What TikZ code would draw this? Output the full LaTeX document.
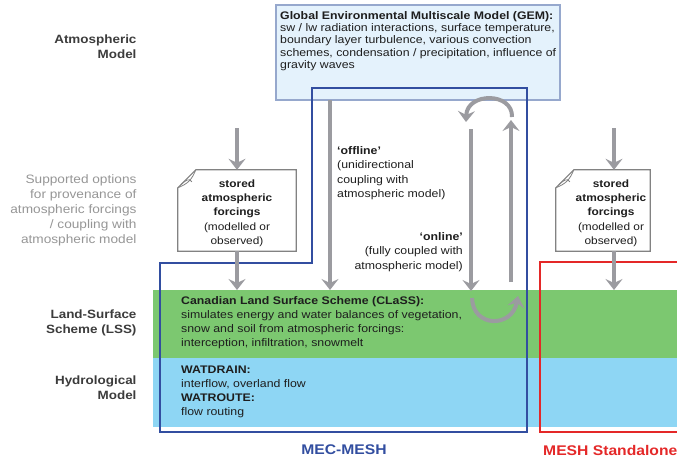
\documentclass[tikz,border=0pt]{standalone}
\usepackage{fontspec}
\setmainfont{Liberation Sans}[FakeStretch=1.12]
\usetikzlibrary{arrows.meta,positioning}
\definecolor{lssgreen}{RGB}{124,200,112}
\definecolor{hydblue}{RGB}{142,214,244}
\definecolor{gemfill}{RGB}{228,242,252}
\definecolor{gemborder}{RGB}{150,168,205}
\definecolor{mecblue}{RGB}{50,78,160}
\definecolor{stdred}{RGB}{228,40,40}
\definecolor{arrowgray}{RGB}{155,155,160}
\definecolor{boxgray}{RGB}{130,130,130}
\definecolor{labgray}{RGB}{60,60,60}
\definecolor{optgray}{RGB}{150,150,150}
\definecolor{txt}{RGB}{30,30,30}
\tikzset{
  band/.style={inner sep=0pt, outer sep=0pt, anchor=north west},
  flow/.style={draw=arrowgray, line width=4pt, -{Stealth[length=11pt,width=17pt,inset=4pt]}},
  leftlab/.style={anchor=north east, align=right, text=labgray, font=\fontsize{12}{15}\selectfont\bfseries},
  optlab/.style={anchor=north east, align=right, text=optgray, font=\fontsize{12.2}{15}\selectfont},
  bandtxt/.style={anchor=north west, align=left, text=txt, inner sep=0pt, font=\fontsize{11}{14}\selectfont},
  storedtxt/.style={minimum height=81pt, inner sep=0pt, align=center, text=txt, font=\fontsize{10.6}{14.3}\selectfont},
  storedline/.style={draw=boxgray, line width=1.2pt, fill=white},
  couptxt/.style={inner sep=0pt, text=txt, font=\fontsize{11}{14.5}\selectfont},
  grouplab/.style={inner sep=0pt, font=\fontsize{14}{16}\selectfont\bfseries}
}
\begin{document}
\begin{tikzpicture}[x=1pt,y=-1pt]
\useasboundingbox (0,0) rectangle (677,458);
% bands
\node[band, fill=lssgreen, minimum width=524pt, minimum height=68pt] (lss) at (153,290) {};
\node[band, fill=hydblue, minimum width=524pt, minimum height=69pt] (hyd) at (153,358) {};
% GEM box
\node[band, draw=gemborder, line width=1.2pt, fill=gemfill, minimum width=284pt, minimum height=95pt] (gem) at (276,5) {};
\node[anchor=north west, align=left, inner sep=0pt, text=txt, font=\fontsize{11}{12.4}\selectfont] (gemtxt) at (280,11)
 {\textbf{Global Environmental Multiscale Model (GEM):}\\sw / lw radiation interactions,\ surface temperature,\\boundary layer turbulence, various convection\\schemes, condensation / precipitation, influence of\\gravity waves};
% group outlines
\draw[mecblue, line width=2pt] (312,88) -- (527,88) -- (527,432) -- (160,432) -- (160,263) -- (312,263) -- cycle;
\draw[stdred, line width=2pt] (680,262) -- (540,262) -- (540,432) -- (680,432);
% left labels
\node[leftlab] (atm) at (140,31) {Atmospheric\\Model};
\node[optlab] (opt) at (140,171) {Supported options\\for provenance of\\atmospheric forcings\\/ coupling with\\atmospheric model};
\node[leftlab] (lsslab) at (140,306) {Land-Surface\\Scheme (LSS)};
\node[leftlab] (hydlab) at (140,372) {Hydrological\\Model};
% stored forcings boxes
\foreach \n/\cx/\w in {s1/237/118, s2/603/94} {
  \node[storedtxt, minimum width=\w pt] (\n) at (\cx,210.5) {};
  \draw[storedline] ([xshift=18pt]\n.north west) -- (\n.north east) -- (\n.south east) -- (\n.south west) -- ([yshift=-18pt]\n.north west) -- cycle;
  \draw[boxgray, line width=0.8pt] ([yshift=-18pt]\n.north west) .. controls ([xshift=10pt,yshift=-14pt]\n.north west) and ([xshift=14pt,yshift=-10pt]\n.north west) .. ([xshift=18pt]\n.north west);
  \draw[boxgray, line width=0.8pt] ([xshift=3pt,yshift=-15pt]\n.north west) .. controls ([xshift=8pt,yshift=-10pt]\n.north west) and ([xshift=12pt,yshift=-8pt]\n.north west) .. ([xshift=14pt,yshift=-12pt]\n.north west);
}
\node[storedtxt, minimum height=0pt] (t1) at (237,213) {\textbf{stored}\\\textbf{atmospheric}\\\textbf{forcings}\\(modelled or\\observed)};
\node[storedtxt, minimum height=0pt] (t2) at (611,213) {\textbf{stored}\\\textbf{atmospheric}\\\textbf{forcings}\\(modelled or\\observed)};
\coordinate (a1) at (237,128);
\coordinate (a2) at (614,128);
\draw[flow] (a1) -- (s1.north);
\draw[flow] (s1.south) -- (s1.south |- lss.north);
\draw[flow] (a2) -- (a2 |- s2.north);
\draw[flow] (a2 |- s2.south) -- (a2 |- lss.north);
% offline
\draw[flow] (330,0 |- gem.south) -- (330,0 |- lss.north);
\node[couptxt, anchor=north west, align=left] (off) at (337,146) {\textbf{‘offline’}\\(unidirectional\\coupling with\\atmospheric model)};
% online
\coordinate (ondtop) at (471,129);
\coordinate (ondbot) at (471,291);
\coordinate (onutop) at (511,120);
\coordinate (onubot) at (511,282);
\draw[flow] (ondtop) -- (ondbot);
\draw[flow] (onubot) -- (onutop);
\coordinate (ct1) at (512,117);
\coordinate (ct2) at (466,122);
\draw[flow] (ct1) .. controls (513,92) and (467,92) .. (ct2);
\coordinate (cb1) at (472,298);
\coordinate (cb2) at (518,296);
\draw[flow] (cb1) .. controls (473,328) and (512,328) .. (cb2);
\node[couptxt, anchor=north east, align=right] (on) at (463,232) {\textbf{‘online’}\\(fully coupled with\\atmospheric model)};
% band texts
\node[bandtxt] (class) at (181,296) {\textbf{Canadian Land Surface Scheme (CLaSS):}\\simulates energy and water balances of vegetation,\\snow and soil from atmospheric forcings:\\interception, infiltration, snowmelt};
\node[bandtxt] (wat) at (181,366) {\textbf{WATDRAIN:}\\interflow, overland flow\\\textbf{WATROUTE:}\\flow routing};
% group labels
\node[grouplab, text=mecblue] (mec) at (344,450) {MEC-MESH};
\node[grouplab, text=stdred, anchor=west] (std) at (543,450) {MESH Standalone};
\end{tikzpicture}
\end{document}
